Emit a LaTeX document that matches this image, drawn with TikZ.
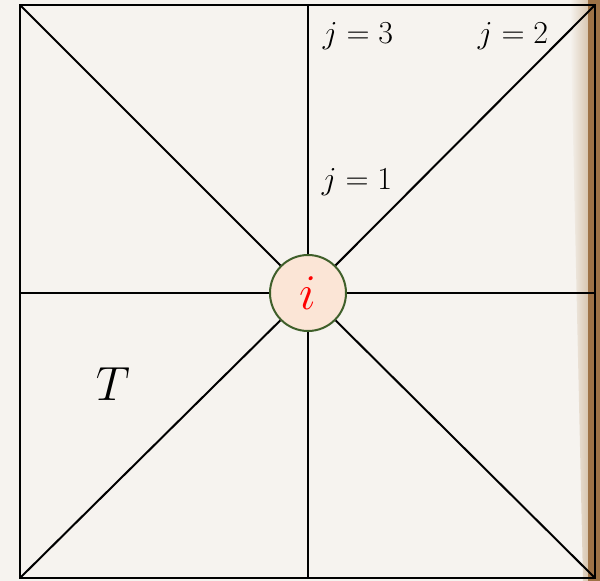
\documentclass[tikz,border=0pt]{standalone}
\usepackage{fix-cm}
\definecolor{bg}{HTML}{F6F3EF}
\definecolor{tanc}{HTML}{D8C6B0}
\definecolor{brownc}{HTML}{9E7347}
\definecolor{nodefill}{HTML}{FBE5D6}
\definecolor{nodeborder}{HTML}{3F5F2A}
\tikzset{
  gridline/.style={draw=black, line width=2pt},
  vertex/.style={circle, draw=nodeborder, fill=nodefill, line width=2pt, minimum size=76pt, inner sep=0pt, text=red},
  jlabel/.style={inner sep=0pt, font=\fontsize{32}{38}\selectfont},
  biglabel/.style={inner sep=0pt, font=\fontsize{48}{54}\selectfont}
}
\begin{document}
\begin{tikzpicture}[x=1pt,y=-1pt]
\useasboundingbox (0,0) rectangle (600,581);
\fill[bg] (0,0) rectangle (600,581);
\shade[left color=bg, right color=tanc] (570,0) -- (588,0) -- (588,581) -- (583,581) -- cycle;
\fill[brownc] (588,0) rectangle (600,581);
\coordinate (TL) at (20,5);
\coordinate (TR) at (595,5);
\coordinate (BR) at (595,578);
\coordinate (BL) at (20,578);
\coordinate (TM) at (308,5);
\coordinate (BM) at (308,578);
\coordinate (LM) at (20,293);
\coordinate (RM) at (595,293);
\draw[gridline] (TL) rectangle (BR);
\node[vertex, font=\fontsize{50}{56}\selectfont] (i) at (308,293) {$i$\hspace{8pt}};
\draw[gridline] (TL) -- (i);
\draw[gridline] (TR) -- (i);
\draw[gridline] (BR) -- (i);
\draw[gridline] (BL) -- (i);
\draw[gridline] (TM) -- (i);
\draw[gridline] (BM) -- (i);
\draw[gridline] (LM) -- (i);
\draw[gridline] (RM) -- (i);
\node[jlabel] (j3) at (358,36) {$j=3$};
\node[jlabel] (j2) at (513,36) {$j=2$};
\node[jlabel] (j1) at (357,182) {$j=1$};
\node[biglabel] (T) at (113,384) {$T$};
\end{tikzpicture}
\end{document}
